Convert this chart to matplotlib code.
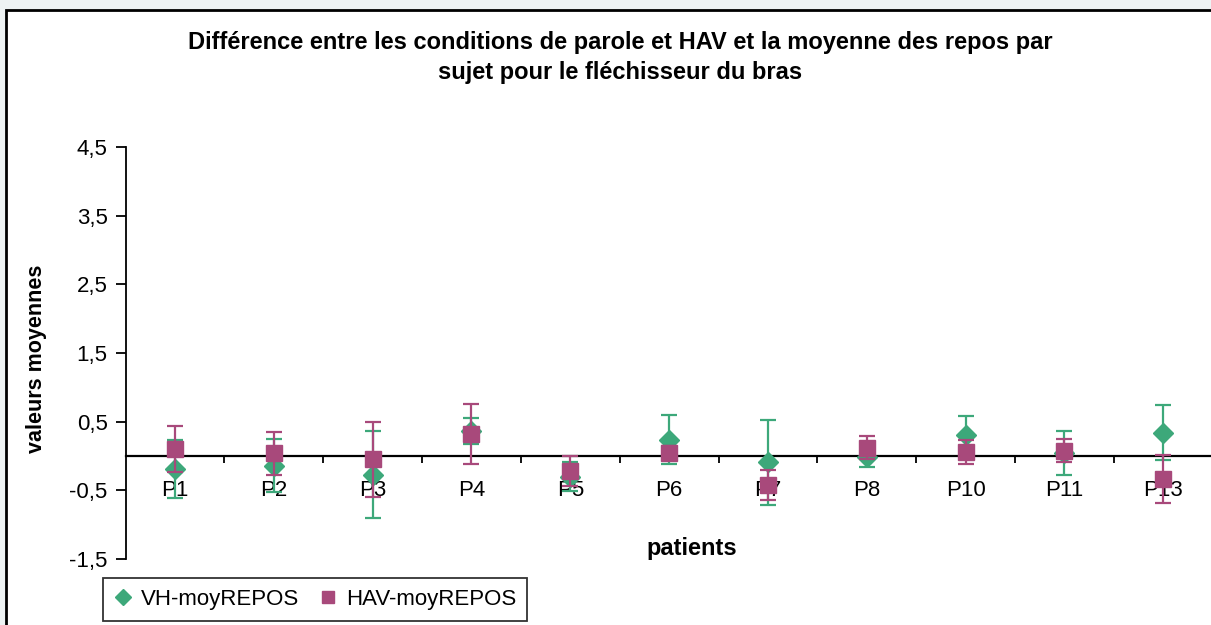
"""Différence parole / HAV vs moyenne des repos - fléchisseur du bras."""

import matplotlib

matplotlib.use("Agg")
import matplotlib.pyplot as plt
from matplotlib.lines import Line2D
from matplotlib.patches import Rectangle
from matplotlib.ticker import FixedLocator

plt.rcParams["font.family"] = ["Liberation Sans", "DejaVu Sans"]

# data
patients = ["P1", "P2", "P3", "P4", "P5", "P6", "P7", "P8", "P10", "P11", "P13"]
vh_mean = [-0.19, -0.14, -0.27, 0.36, -0.30, 0.24, -0.09, -0.01, 0.30, 0.05, 0.34]
vh_err = [0.42, 0.39, 0.64, 0.19, 0.21, 0.35, 0.62, 0.15, 0.28, 0.32, 0.40]
hav_mean = [0.10, 0.04, -0.05, 0.32, -0.22, 0.05, -0.42, 0.12, 0.06, 0.08, -0.33]
hav_err = [0.33, 0.31, 0.54, 0.44, 0.22, 0.09, 0.22, 0.17, 0.17, 0.17, 0.35]
yticks = [-1.5, -0.5, 0.5, 1.5, 2.5, 3.5, 4.5]

green = "#3DA87A"
magenta = "#A8497B"

W, H = 1211, 625
fig = plt.figure(figsize=(W / 100, H / 100), dpi=100, facecolor="#EEF3F4")

# white chart area with black border (cut off right / bottom)
fig.patches.append(
    Rectangle((6 / W, -0.05), 1.1, 1 - 10 / H + 0.05, transform=fig.transFigure,
              facecolor="white", edgecolor="black", linewidth=2, zorder=-5)
)

ax = fig.add_axes([125.6 / W, 1 - 559 / H, 1087 / W, 412 / H])
ax.patch.set_visible(False)

x = list(range(len(patients)))
ax.errorbar(x, vh_mean, yerr=vh_err, fmt="D", color=green, ms=10.5, mec=green,
            ecolor=green, elinewidth=1.6, capsize=5.5, capthick=1.6, zorder=3,
            clip_on=False)
ax.errorbar(x, hav_mean, yerr=hav_err, fmt="s", color=magenta, ms=12, mec=magenta,
            ecolor=magenta, elinewidth=1.6, capsize=5.5, capthick=1.6, zorder=4,
            clip_on=False)

ax.set_xlim(-0.5, len(patients) - 0.5)
ax.set_ylim(-1.5, 4.5)

for side in ["top", "right"]:
    ax.spines[side].set_visible(False)
ax.spines["left"].set_linewidth(1.3)
ax.spines["bottom"].set_position(("data", 0))
ax.spines["bottom"].set_linewidth(1.6)

ax.set_yticks(yticks)
ax.set_yticklabels([f"{v:.1f}".replace(".", ",") for v in yticks], fontsize=16)
ax.tick_params(axis="y", length=7, width=1.3, pad=6)

ax.set_xticks(x)
ax.set_xticklabels(patients, fontsize=16)
ax.tick_params(axis="x", which="major", length=0, pad=17)
ax.xaxis.set_minor_locator(FixedLocator([i + 0.5 for i in x[:-1]]))
ax.tick_params(axis="x", which="minor", length=5, width=1.3, direction="out")

fig.text(620 / W, 1 - 42 / H,
         "Différence entre les conditions de parole et HAV et la moyenne des repos par",
         ha="center", va="center", fontsize=17, fontweight="bold")
fig.text(620 / W, 1 - 72 / H, "sujet pour le fléchisseur du bras",
         ha="center", va="center", fontsize=17, fontweight="bold")
fig.text(37 / W, 1 - 359 / H, "valeurs moyennes", rotation=90, ha="center",
         va="center", fontsize=15.5, fontweight="bold")
fig.text(692 / W, 1 - 548 / H, "patients", ha="center", va="center",
         fontsize=17, fontweight="bold")

handles = [
    Line2D([], [], marker="D", color=green, ls="none", ms=8),
    Line2D([], [], marker="s", color=magenta, ls="none", ms=9),
]
leg = fig.legend(handles, ["VH-moyREPOS", "HAV-moyREPOS"], ncol=2,
                 loc="lower left", bbox_to_anchor=(103 / W, 1 - 621 / H),
                 fontsize=16, frameon=True, fancybox=False, edgecolor="black",
                 handlelength=0.8, handletextpad=0.4, columnspacing=0.9,
                 borderpad=0.5, borderaxespad=0)
leg.get_frame().set_linewidth(1.3)

fig.savefig("out.png", dpi=100, facecolor=fig.get_facecolor())
